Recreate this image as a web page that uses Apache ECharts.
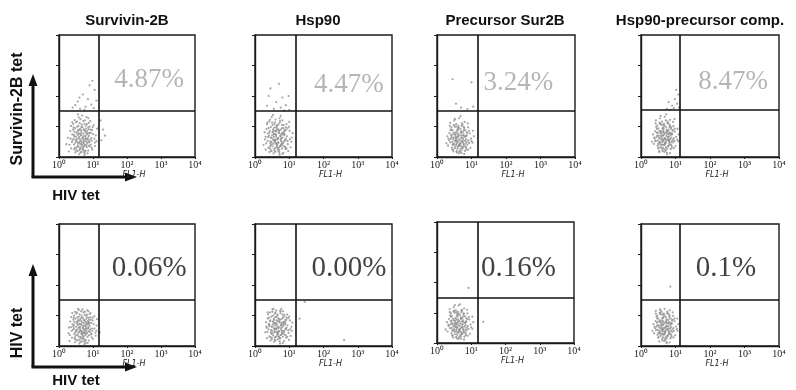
<!DOCTYPE html>
<html>
<head>
<meta charset="utf-8">
<script src="https://cdn.jsdelivr.net/npm/echarts@6/dist/echarts.min.js"></script>
<style>html,body{margin:0;padding:0;background:#fff}#c{width:796px;height:390px}</style>
</head>
<body>
<div id="c"></div>
<script>
// ---------- DATA ----------
const titles = ['Survivin-2B', 'Hsp90', 'Precursor Sur2B', 'Hsp90-precursor comp.'];
const percents = ['4.87%', '4.47%', '3.24%', '8.47%', '0.06%', '0.00%', '0.16%', '0.1%'];
const tickLabels = ['10\u2070', '10\u00b9', '10\u00b2', '10\u00b3', '10\u2074'];
const xAxisName = 'FL1-H';
const rowLabels = ['Survivin-2B tet', 'HIV tet'];
const colLabel = 'HIV tet';
// quadrant gates, in decades (log10 of fluorescence)
const gateX = [1.18, 1.19, 1.17, 1.13, 1.18, 1.19, 1.18, 1.13];
const gateY = [1.51, 1.52, 1.52, 1.56, 1.53, 1.53, 1.50, 1.51];

// events, [log10 FL1-H, log10 tet] per panel
const p1 = [[.52,.31],[.61,.44],[.73,.22],[.84,.57],[.45,.68],[.66,.81],[.79,.93],[.91,.35],[.38,.49],[.57,1.02],
[.69,.61],[.83,.74],[.97,.88],[.48,.15],[.62,.27],[.75,.39],[.88,1.12],[.33,.85],[.55,.72],[.71,1.18],
[.95,.62],[1.05,.47],[.42,1.08],[.64,.53],[.78,.66],[.86,.21],[.59,.09],[.47,.94],[.72,.77],[.81,1.31],
[1.02,1.05],[.36,.28],[.53,.58],[.67,.36],[.93,.79],[.26,.63],[.58,.87],[.76,.12],[.89,.48],[.44,.41],
[.63,1.24],[.74,.53],[1.08,.71],[.51,.79],[.69,.97],[.82,.33],[.39,.74],[.6,.66],[.87,.91],[.98,.24],
[.56,.46],[.7,.29],[.79,1.03],[.46,1.21],[.92,1.18],[.65,.71],[.31,.4],[.77,.84],[.54,.19],[.85,.62],
[1.12,.93],[.68,1.36],[.49,.56],[.62,.92],[.73,.45],[.96,.53],[.41,.9],[.88,.69],[.57,.34],[.8,.59],
[.66,.16],[.5,1.14],[.75,1.09],[.94,.41],[.35,1.02],[.71,.68],[.6,.77],[.83,.86],[1.0,.75],[.45,.25],
[.78,.2],[.64,.43],[.9,1.0],[.53,.99],[.29,.18],[.72,.57],[.86,1.27],[.58,1.3],[1.06,.36],[.43,.6],
[.58,.62],[.67,.49],[.74,.88],[.81,.41],[.52,.51],[.63,.15],[.77,.7],[.86,.97],[.45,.83],[.69,.24],
[.92,.57],[.55,.38],[.61,1.11],[.72,.33],[.84,.12],[.4,.55],[.66,.99],[.79,.51],[.5,.66],[.9,.78],
[.57,.89],[.7,.63],[.83,.46],[.47,.3],[.64,.75],[.76,1.2],[.99,.98],[.34,.6],[.6,.23],[.73,.9],
[.88,.37],[.53,1.16],[.68,.41],[.8,.8],[1.04,.6],[.43,.97],[.62,.58],[.75,.06],[.87,.52],[.51,.22],
[.65,.87],[.78,.6],[.96,.3],[.39,1.14],[.58,.76],[.71,.48],[.82,1.08],[.48,.47],[.63,.31],[.93,.9],
[.22,.42],[.56,1.4],[.74,.16],[1.1,.52],[.44,.72],[.67,1.06],[.85,.78],[.6,.5],[.77,.37],[.54,.83],
[.62,1.58],[.78,1.65],[.95,1.72],[.55,1.82],[1.02,1.6],[.85,1.9],[.7,2.05],[1.05,2.2],[.9,2.35],[.48,1.7],
[.75,1.55],[1.1,1.85],[.6,1.95],[.98,2.5],[.4,1.62],[1.25,.55],[1.3,.9],[1.35,.7],[1.22,1.2]];
const p2 = [[.44,.36],[.58,.52],[.7,.18],[.81,.64],[.37,.77],[.63,.88],[.76,.41],[.9,.97],[.51,1.05],[.67,.29],
[.85,.83],[.29,.58],[.55,.66],[.72,1.12],[.95,.52],[.47,.21],[.61,.74],[.79,.95],[.88,.33],[.41,1.16],
[.66,.57],[.53,.43],[.74,.7],[1.01,.86],[.34,.92],[.6,1.23],[.83,.14],[.69,.81],[.48,.63],[.78,.49],
[.92,1.08],[.57,.97],[.39,.3],[.65,.39],[.86,.72],[1.07,.64],[.52,.82],[.71,.24],[.45,.51],[.8,1.2],
[.62,.67],[.96,.42],[.33,.45],[.75,.9],[.58,1.14],[.87,.55],[.43,.86],[.68,.48],[.99,.99],[.54,.12],
[.77,.61],[.64,1.02],[.5,.71],[.89,.26],[.28,.81],[.73,.35],[.6,.58],[.84,1.05],[1.04,.32],[.46,.98],
[.7,.78],[.56,.27],[.82,.45],[.38,.65],[.66,.93],[.93,.68],[.49,1.31],[.75,1.35],[.61,.44],[.87,.87],
[.42,.16],[.57,.76],[.79,.28],[1.1,.78],[.35,1.07],[.67,.62],[.53,.91],[.81,.79],[.97,.19],[.47,.4],
[.72,1.27],[.63,.34],[.9,.6],[.55,.55],[.31,.24],[.78,.73],[.44,1.22],[.68,1.06],[1.0,1.15],[.59,.85],
[.52,.58],[.63,.46],[.71,.86],[.78,.38],[.48,.49],[.59,.17],[.74,.67],[.83,.94],[.42,.8],[.66,.22],
[.89,.55],[.51,.35],[.57,1.08],[.69,.31],[.8,.1],[.37,.53],[.62,.96],[.76,.53],[.46,.64],[.86,.76],
[.54,.87],[.67,.61],[.79,.43],[.44,.28],[.61,.72],[.73,1.18],[.95,.94],[.31,.66],[.57,.21],[.7,.88],
[.85,.35],[.5,1.13],[.64,.4],[.77,.77],[1.02,.58],[.4,.95],[.59,.56],[.72,.07],[.84,.5],[.48,.2],
[.62,.84],[.75,.58],[.92,.28],[.36,1.12],[.55,.74],[.68,.46],[.79,1.05],[.45,.45],[.6,.3],[.9,.88],
[.25,.4],[.53,1.38],[.71,.14],[1.06,.5],[.41,.7],[.64,1.04],[.82,.75],[.57,.49],[.74,.36],[.51,.81],
[.55,1.58],[.75,1.62],[.9,1.7],[.62,1.8],[1.0,1.55],[.8,1.95],[.45,2.25],[.7,2.4],[.98,2.0],[.35,1.68],
[.85,1.52],[.4,2.0]];
const p3 = [[.5,.42],[.63,.58],[.74,.29],[.41,.71],[.57,.83],[.69,.47],[.82,.66],[.35,.55],[.61,.95],[.78,.88],
[.46,.24],[.66,.71],[.88,.41],[.53,.62],[.72,1.02],[.39,.9],[.6,.33],[.81,.53],[.95,.77],[.48,.79],
[.67,.16],[.76,.61],[.56,1.08],[.9,.97],[.32,.37],[.7,.84],[.44,.49],[.62,.69],[.85,.25],[.58,.45],
[.99,.6],[.52,.99],[.73,.51],[.38,1.12],[.8,1.15],[.65,.37],[.47,.64],[.87,.8],[.6,.76],[.71,.22],
[.43,.31],[.55,.56],[.77,.74],[.93,.46],[.5,1.2],[.68,.92],[.36,.78],[.83,.35],[.64,1.27],[.57,.19],
[.79,.95],[1.04,.86],[.45,.88],[.69,.63],[.53,.35],[.89,1.1],[.61,.5],[.74,1.06],[.4,.6],[.84,.58],
[.66,.44],[.49,1.05],[.97,.3],[.59,.9],[.72,.7],[.3,.68],[.86,.71],[.54,.73],[.63,.12],[.77,.43],
[.42,.97],[.68,1.34],[.91,.55],[.58,.64],[.75,.82],[.46,.41],[1.07,.68],[.62,1.02],[.81,.2],[.51,.53],
[.55,.5],[.64,.4],[.7,.79],[.77,.34],[.49,.44],[.58,.15],[.73,.6],[.82,.87],[.43,.73],[.65,.2],
[.87,.5],[.52,.29],[.56,1.0],[.68,.27],[.79,.1],[.38,.48],[.61,.88],[.75,.48],[.47,.58],[.85,.69],
[.53,.8],[.66,.55],[.78,.39],[.45,.24],[.6,.66],[.72,1.1],[.93,.86],[.33,.6],[.56,.4],[.69,.81],
[.84,.31],[.5,1.05],[.63,.35],[.76,.7],[1.0,.52],[.41,.87],[.58,.52],[.71,.13],[.83,.45],[.48,.18],
[.61,.77],[.74,.53],[.9,.24],[.37,1.02],[.54,.68],[.67,.42],[.78,.98],[.46,.4],[.59,.27],[.88,.8],
[.27,.45],[.52,1.25],[.7,.36],[1.03,.47],[.42,.65],[.63,.96],[.81,.68],[.56,.62],[.73,.3],[.5,.74],
[.45,2.55],[1.0,2.45],[.7,1.62],[.88,1.57],[.55,1.75],[1.05,1.65]];
const p4 = [[.55,.47],[.68,.62],[.79,.35],[.46,.8],[.62,.93],[.74,.55],[.86,.72],[.4,.6],[.66,1.04],[.83,.97],
[.51,.3],[.71,.78],[.92,.48],[.58,.68],[.77,1.1],[.44,.99],[.65,.39],[.85,.59],[.98,.83],[.53,.86],
[.72,.21],[.81,.67],[.61,1.16],[.94,1.02],[.37,.43],[.75,.9],[.49,.55],[.67,.75],[.89,.31],[.63,.51],
[1.02,.66],[.57,1.07],[.78,.57],[.43,1.2],[.84,1.22],[.7,.43],[.52,.7],[.91,.86],[.64,.82],[.76,.27],
[.48,.37],[.6,.62],[.82,.8],[.97,.52],[.55,1.27],[.73,.98],[.41,.84],[.87,.41],[.69,1.32],[.62,.24],
[.84,1.02],[1.06,.92],[.5,.94],[.74,.69],[.58,.41],[.93,1.15],[.66,.56],[.79,1.12],[.45,.66],[.88,.64],
[.71,.5],[.54,1.12],[1.0,.36],[.64,.96],[.77,.76],[.35,.74],[.9,.77],[.59,.79],[.68,.17],[.82,.49],
[.47,1.03],[.73,1.4],[.95,.61],[.63,.7],[.8,.88],[.51,.46],[1.09,.74],[.67,1.09],[.86,.26],[.56,.6],
[.7,.6],[.76,.84],[.6,.3],[.83,.56],[.42,.52],[.97,1.25],[.65,.87],[.53,.2],[.88,.97],[.72,1.2],
[.6,.55],[.69,.45],[.75,.85],[.82,.4],[.54,.5],[.63,.19],[.78,.65],[.87,.93],[.48,.79],[.7,.25],
[.92,.56],[.57,.34],[.61,1.06],[.73,.32],[.84,.13],[.43,.53],[.66,.94],[.8,.52],[.52,.63],[.9,.74],
[.58,.85],[.71,.6],[.83,.44],[.5,.28],[.65,.71],[.77,1.16],[.98,.93],[.38,.64],[.61,.41],[.74,.8],
[.89,.36],[.55,1.1],[.68,.39],[.81,.75],[1.05,.57],[.46,.92],[.63,.57],[.76,.09],[.88,.5],[.53,.16],
[.66,.82],[.79,.58],[.95,.29],[.42,1.1],[.59,.73],[.72,.46],[.83,1.06],[.51,.42],[.64,.29],[.93,.88],
[.32,.5],[.57,1.35],[.75,.14],[1.08,.52],[.47,.7],[.68,1.02],[.86,.78],[.62,.49],[.78,.36],[.55,.8],
[.95,1.6],[1.05,1.75],[.85,1.55],[.98,1.9],[1.08,2.05],[.9,1.68],[.75,1.58],[1.02,2.2],[.8,1.8],[1.1,1.62]];
const p5 = [[.5,.35],[.63,.5],[.75,.22],[.86,.61],[.42,.64],[.68,.77],[.8,.89],[.94,.38],[.37,.5],[.58,.96],
[.71,.58],[.85,.71],[.99,.84],[.47,.13],[.64,.26],[.77,.42],[.9,1.05],[.33,.8],[.55,.68],[.72,1.1],
[.97,.57],[1.07,.44],[.44,1.0],[.66,.5],[.79,.63],[.88,.18],[.6,.08],[.48,.9],[.73,.74],[.83,1.17],
[1.04,.98],[.38,.27],[.54,.55],[.69,.33],[.95,.76],[.29,.6],[.59,.83],[.78,.11],[.91,.46],[.45,.39],
[.65,1.14],[.76,.51],[1.1,.67],[.52,.75],[.7,.92],[.84,.3],[.4,.71],[.61,.62],[.89,.86],[1.0,.23],
[.57,.43],[.71,.27],[.81,.97],[.47,1.12],[.93,1.08],[.67,.68],[.32,.36],[.78,.8],[.55,.18],[.87,.58],
[1.12,.88],[.69,1.2],[.5,.52],[.63,.88],[.74,.43],[.98,.5],[.42,.86],[.9,.66],[.58,.31],[.82,.56],
[.67,.15],[.51,1.06],[.76,1.02],[.96,.4],[.36,.95],[.72,.65],[.61,.73],[.85,.82],[1.02,.72],[.46,.23],
[.79,.19],[.65,.41],[.92,.94],[.54,.93],[.31,.16],[.73,.55],[.87,1.14],[.59,1.18],[1.08,.34],[.44,.58],
[.62,.6],[.8,.7],[.53,.8],[.7,.4],[.88,.78],[1.2,.45],
[.58,.6],[.67,.47],[.74,.83],[.81,.39],[.52,.49],[.63,.14],[.77,.67],[.86,.92],[.45,.79],[.69,.23],
[.92,.54],[.55,.36],[.61,1.04],[.72,.31],[.84,.1],[.41,.53],[.66,.94],[.79,.49],[.5,.63],[.9,.74],
[.57,.85],[.7,.6],[.83,.44],[.47,.28],[.64,.71],[.76,1.12],[.99,.93],[.35,.62],[.6,.21],[.73,.86],
[.88,.35],[.53,1.1],[.68,.39],[.8,.76],[1.04,.57],[.43,.93],[.62,.55],[.75,.06],[.87,.49],[.51,.2],
[.65,.82],[.78,.57],[.96,.28],[.39,1.08],[.58,.72],[.71,.46],[.82,1.03],[.48,.45],[.63,.3],[.93,.86],
[.28,.42],[.56,1.22],[.74,.15],[1.1,.5],[.44,.69],[.67,1.0],[.85,.74],[.6,.47],[.77,.35],[.54,.79]];
const p6 = [[.48,.4],[.61,.55],[.73,.25],[.83,.66],[.4,.72],[.66,.82],[.78,.45],[.92,.93],[.53,1.0],[.69,.3],
[.87,.8],[.34,.6],[.57,.66],[.74,1.08],[.97,.52],[.49,.22],[.63,.74],[.81,.92],[.9,.35],[.44,1.1],
[.68,.58],[.55,.45],[.76,.7],[1.02,.84],[.37,.9],[.62,1.17],[.85,.16],[.71,.8],[.5,.63],[.8,.5],
[.94,1.03],[.59,.95],[.42,.32],[.67,.4],[.88,.71],[1.06,.63],[.54,.8],[.73,.26],[.47,.52],[.82,1.14],
[.64,.67],[.98,.43],[.36,.46],[.77,.88],[.6,1.1],[.89,.56],[.45,.84],[.7,.49],[1.0,.96],[.56,.14],
[.79,.62],[.66,1.0],[.52,.71],[.91,.27],[.32,.78],[.75,.36],[.62,.58],[.86,1.02],[1.04,.33],[.48,.96],
[.72,.77],[.58,.28],[.84,.46],[.41,.65],[.68,.91],[.95,.68],[.51,1.2],[.77,1.22],[.63,.45],[.89,.85],
[.45,.18],[.59,.75],[.81,.3],[1.09,.77],[.38,1.04],[.69,.62],[.55,.89],[.83,.78],[.99,.2],[.5,.41],
[.74,1.16],[.65,.35],[.92,.6],[.57,.55],[.35,.26],[.8,.72],
[.55,.58],[.65,.47],[.72,.86],[.79,.39],[.5,.5],[.6,.18],[.75,.67],[.84,.96],[.43,.81],[.67,.22],
[.9,.55],[.53,.35],[.58,1.06],[.7,.31],[.81,.1],[.39,.55],[.63,.95],[.77,.52],[.48,.64],[.88,.76],
[.55,.86],[.68,.61],[.81,.42],[.45,.29],[.62,.72],[.74,1.14],[.97,.91],[.33,.64],[.58,.2],[.71,.87],
[.86,.38],[.51,1.12],[.66,.4],[.78,.77],[1.03,.55],[.41,.93],[.6,.56],[.73,.08],[.85,.49],[.49,.27],
[.63,.84],[.76,.58],[.94,.3],[.37,1.1],[.56,.74],[.69,.46],[.8,1.04],[.46,.45],[.61,.3],[.91,.86],
[.3,.45],[.54,1.22],[.72,.15],[1.07,.5],[.42,.7],[.65,1.03],[.83,.73],[.58,.48],[.75,.36],[.52,.8],
[1.45,1.45],[2.6,.2],[1.3,.9]];
const p7 = [[.5,.44],[.62,.6],[.73,.31],[.4,.72],[.56,.84],[.68,.48],[.81,.67],[.34,.56],[.6,.96],[.77,.89],
[.45,.25],[.65,.72],[.87,.42],[.52,.63],[.71,1.02],[.38,.91],[.59,.34],[.8,.54],[.94,.78],[.47,.8],
[.66,.17],[.75,.62],[.55,1.08],[.89,.98],[.31,.38],[.69,.85],[.43,.5],[.61,.7],[.84,.26],[.57,.46],
[.98,.61],[.51,1.0],[.72,.52],[.37,1.12],[.79,1.14],[.64,.38],[.46,.65],[.86,.81],[.59,.77],[.7,.23],
[.42,.32],[.54,.57],[.76,.75],[.92,.47],[.49,1.18],[.67,.93],[.35,.79],[.82,.36],[.63,1.24],[.56,.2],
[.78,.96],[1.03,.87],[.44,.89],[.68,.64],[.52,.36],[.88,1.1],[.6,.51],[.73,1.06],[.39,.61],[.83,.59],
[.65,.45],[.48,1.05],[.96,.31],[.58,.91],[.71,.71],[.29,.69],[.85,.72],[.53,.74],[.62,.13],[.76,.44],
[.41,.98],[.67,1.28],[.9,.56],[.57,.65],[.74,.83],[.45,.42],[1.06,.69],[.61,1.03],[.8,.21],[.5,.54],
[.55,.52],[.64,.41],[.7,.8],[.77,.34],[.49,.45],[.58,.16],[.73,.61],[.82,.88],[.43,.74],[.65,.2],
[.87,.51],[.52,.29],[.56,1.01],[.68,.27],[.79,.11],[.38,.49],[.61,.89],[.75,.49],[.47,.58],[.85,.69],
[.53,.81],[.66,.56],[.78,.39],[.45,.24],[.6,.67],[.72,1.1],[.93,.86],[.33,.6],[.56,.4],[.69,.8],
[.84,.31],[.5,1.06],[.63,.35],[.76,.7],[1.0,.52],[.41,.86],[.58,.53],[.71,.14],[.83,.45],[.48,.18],
[.61,.77],[.74,.53],[.9,.24],[.37,1.02],[.54,.68],[.67,.42],[.78,.98],[.46,.4],[.59,.27],[.88,.8],
[.25,.45],[.52,1.25],[.7,.36],[1.03,.47],[.42,.65],[.63,.97],[.81,.67],[.56,.62],[.73,.3],[.5,.74],
[.92,1.82],[1.35,.7]];
const p8 = [[.55,.45],[.67,.6],[.78,.33],[.46,.77],[.62,.9],[.73,.53],[.85,.7],[.41,.58],[.66,1.0],[.82,.94],
[.51,.29],[.7,.76],[.91,.46],[.58,.66],[.76,1.06],[.45,.96],[.64,.37],[.84,.57],[.97,.81],[.53,.84],
[.71,.2],[.8,.65],[.6,1.12],[.93,.99],[.38,.42],[.74,.87],[.49,.53],[.66,.73],[.88,.3],[.62,.49],
[1.01,.64],[.56,1.04],[.77,.55],[.43,1.15],[.83,1.17],[.69,.41],[.52,.68],[.9,.84],[.63,.8],[.75,.26],
[.48,.36],[.6,.6],[.81,.78],[.96,.5],[.55,1.2],[.72,.95],[.42,.82],[.86,.39],[.68,1.22],[.61,.23],
[.83,.99],[1.05,.9],[.5,.91],[.73,.67],[.57,.4],[.92,1.1],[.65,.54],[.78,1.08],[.45,.64],[.87,.62],
[.7,.48],[.54,1.09],[.99,.35],[.63,.93],[.76,.74],[.36,.72],[.89,.75],[.58,.77],[.67,.16],[.81,.47],
[.47,1.0],[.94,.59],[.62,.68],[.79,.86],[.51,.44],[1.08,.72],[.66,1.06],[.85,.25],[.56,.58],[.72,.62],
[.6,.55],[.68,.46],[.74,.83],[.81,.39],[.54,.5],[.62,.18],[.77,.64],[.86,.9],[.48,.78],[.69,.24],
[.91,.55],[.57,.33],[.61,1.04],[.72,.31],[.83,.12],[.44,.52],[.65,.93],[.79,.51],[.52,.62],[.89,.72],
[.58,.84],[.7,.59],[.82,.43],[.5,.27],[.64,.7],[.76,1.13],[.97,.9],[.39,.63],[.61,.4],[.73,.79],
[.88,.35],[.55,1.08],[.67,.38],[.8,.74],[1.04,.56],[.47,.9],[.63,.56],[.75,.09],[.87,.49],[.53,.15],
[.65,.81],[.78,.57],[.94,.28],[.43,1.06],[.59,.72],[.71,.45],[.82,1.03],[.51,.41],[.64,.28],[.92,.86],
[.33,.5],[.57,1.16],[.74,.13],[1.06,.5],[.47,.68],[.68,1.0],[.85,.76],[.62,.48],[.77,.35],[.55,.78],
[.85,1.95]];
const events = [p1, p2, p3, p4, p5, p6, p7, p8];

// ---------- LAYOUT ----------
const grids = [[59,35,136,122],[255,35,137,122],[437,35,138,122],[641,35,138,122],
               [59,224,136,122],[255,224,137,122],[437,222,137,121],[641,224,138,122]];
const pctAnchor = [[2.65,2.52],[2.74,2.36],[2.36,2.43],[2.67,2.47],[2.65,2.54],[2.74,2.55],[2.38,2.47],[2.46,2.55]];
const titleX = [127, 318, 505, 700];

const chart = echarts.init(document.getElementById('c'), null, {renderer: 'canvas'});
const option = {animation: false, backgroundColor: '#fff', grid: [], xAxis: [], yAxis: [], series: [], graphic: []};

for (let i = 0; i < 8; i++) {
  const g = grids[i];
  const top = i < 4;
  option.grid.push({left: g[0], top: g[1], width: g[2], height: g[3], show: true,
    borderColor: '#1a1a1a', borderWidth: 1.4, backgroundColor: 'transparent'});
  option.xAxis.push({type: 'value', gridIndex: i, min: 0, max: 4, interval: 1,
    name: xAxisName, nameLocation: 'middle', nameGap: 14,
    nameTextStyle: {fontFamily: 'DejaVu Sans', fontStyle: 'italic', fontSize: 8, color: '#222', padding: [0,0,0,14]},
    axisLine: {show: true, lineStyle: {color: '#1a1a1a', width: 1.4}},
    axisTick: {show: true, length: 2, lineStyle: {color: '#1a1a1a'}},
    splitLine: {show: false},
    axisLabel: {margin: 3, fontFamily: 'Liberation Serif', fontSize: 10, color: '#222',
      formatter: v => tickLabels[v]}});
  option.yAxis.push({type: 'value', gridIndex: i, min: 0, max: 4, interval: 1,
    axisLine: {show: true, lineStyle: {color: '#1a1a1a', width: 1.4}},
    axisTick: {show: true, length: 3, lineStyle: {color: '#1a1a1a'}},
    splitLine: {show: false}, axisLabel: {show: false}});
  option.series.push({type: 'scatter', xAxisIndex: i, yAxisIndex: i, data: events[i],
    symbol: 'circle', symbolSize: 2.2, itemStyle: {color: '#8e8e8e'}, silent: true,
    markLine: {silent: true, symbol: ['none','none'], label: {show: false},
      lineStyle: {color: '#111', width: 1.6, type: 'solid'},
      data: [{xAxis: gateX[i]}, {yAxis: gateY[i]}]}});
  option.series.push({type: 'scatter', xAxisIndex: i, yAxisIndex: i, data: [pctAnchor[i]],
    symbolSize: 1, itemStyle: {color: 'rgba(0,0,0,0)'}, silent: true,
    label: {show: true, position: 'inside', formatter: percents[i],
      fontFamily: 'Liberation Serif', fontSize: top ? 27 : 29,
      color: top ? '#a2a2a2' : '#111'}});
}

titles.forEach((t, j) => option.graphic.push({type: 'text', x: titleX[j], y: 21,
  style: {text: t, font: 'bold 15px "Liberation Sans"', fill: '#111', align: 'center', verticalAlign: 'middle'}}));

// axis arrows and labels on the left
[0, 190].forEach((dy, r) => {
  option.graphic.push({type: 'line', shape: {x1: 33, y1: 177 + dy, x2: 33, y2: 84 + dy}, style: {stroke: '#111', lineWidth: 3}});
  option.graphic.push({type: 'polygon', shape: {points: [[33, 74 + dy], [28.5, 86 + dy], [37.5, 86 + dy]]}, style: {fill: '#111'}});
  option.graphic.push({type: 'line', shape: {x1: 31.5, y1: 177 + dy, x2: 126, y2: 177 + dy}, style: {stroke: '#111', lineWidth: 3}});
  option.graphic.push({type: 'polygon', shape: {points: [[137, 177 + dy], [125, 172.5 + dy], [125, 181.5 + dy]]}, style: {fill: '#111'}});
  option.graphic.push({type: 'text', x: 18, y: r === 0 ? 109 : 333, rotation: Math.PI / 2,
    style: {text: rowLabels[r], font: 'bold 16px "Liberation Sans"', fill: '#111', align: 'center', verticalAlign: 'middle'}});
  option.graphic.push({type: 'text', x: 76, y: r === 0 ? 196 : 381,
    style: {text: colLabel, font: 'bold 15px "Liberation Sans"', fill: '#111', align: 'center', verticalAlign: 'middle'}});
});

chart.setOption(option);
</script>
</body>
</html>
